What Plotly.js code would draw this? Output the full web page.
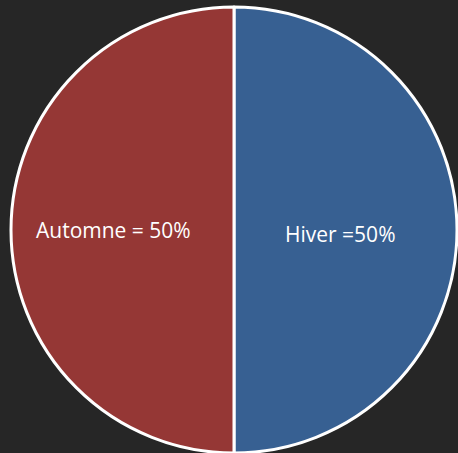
<!DOCTYPE html>
<html>
<head>
<meta charset="utf-8">
<script src="https://cdn.plot.ly/plotly-3.0.1.min.js"></script>
<style>html,body{margin:0;padding:0;background:#262626;}</style>
</head>
<body>
<div id="chart" style="width:458px;height:453px;"></div>
<script>
const labels = ["Hiver", "Automne"];
const values = [50, 50];
const texts = ["Hiver =50%", "Automne = 50%"];
const colors = ["#376092", "#953735"];

Plotly.newPlot("chart", [{
  type: "pie",
  labels: labels,
  values: values,
  text: texts,
  textinfo: "none",
  sort: false,
  direction: "clockwise",
  rotation: 0,
  marker: {colors: colors, line: {color: "#ffffff", width: 3}},
  hoverinfo: "none"
}], {
  width: 458, height: 453,
  paper_bgcolor: "#262626",
  plot_bgcolor: "#262626",
  showlegend: false,
  margin: {l: 11, r: 1, t: 7, b: 0},
  annotations: [
    {text: texts[0], xref: "paper", yref: "paper", x: 0.7377, y: 0.492, xanchor: "center", yanchor: "middle", showarrow: false,
     font: {family: "Open Sans, Noto Sans, sans-serif", size: 21, color: "#ffffff"}},
    {text: texts[1], xref: "paper", yref: "paper", x: 0.2298, y: 0.500, xanchor: "center", yanchor: "middle", showarrow: false,
     font: {family: "Open Sans, Noto Sans, sans-serif", size: 21, color: "#ffffff"}}
  ]
}, {displayModeBar: false, staticPlot: true});
</script>
</body>
</html>
